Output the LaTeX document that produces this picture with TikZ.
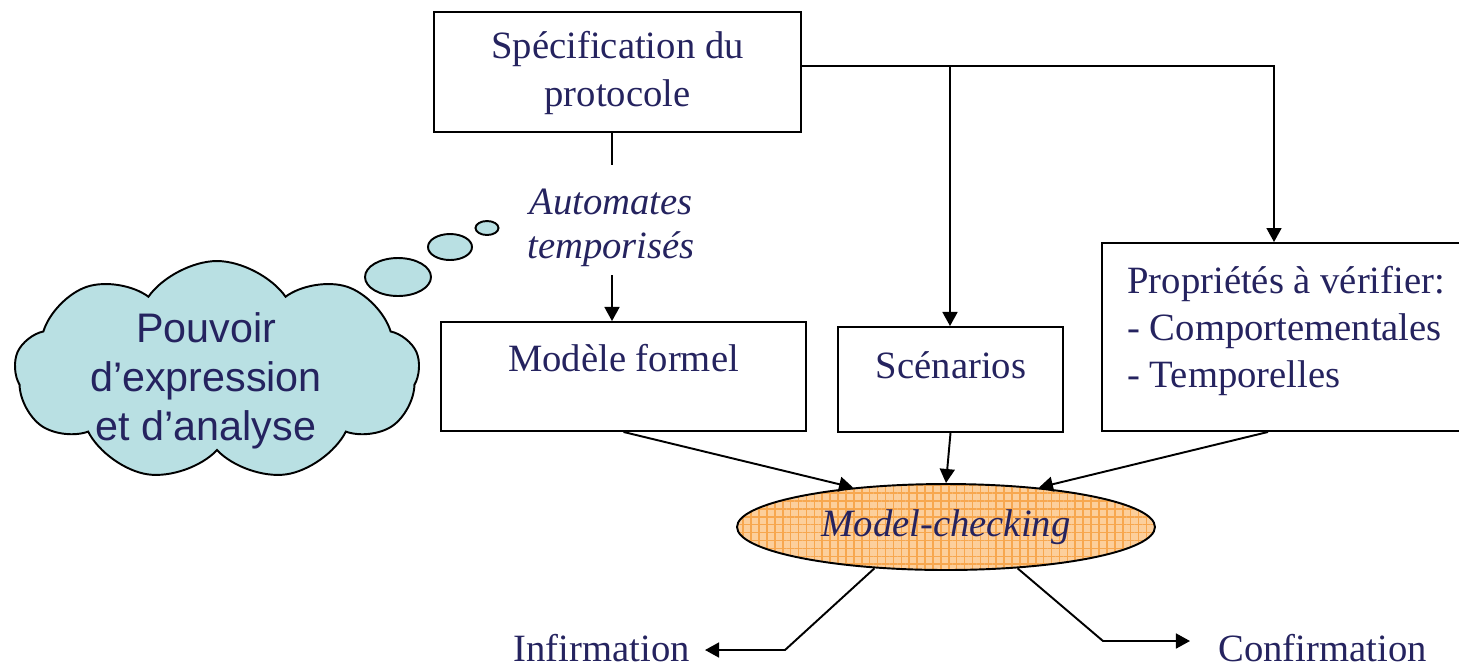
\documentclass[tikz,border=0pt]{standalone}
\usepackage{fontspec}
\setmainfont{Liberation Serif}
\newfontfamily\cloudfont{Liberation Sans}
\usetikzlibrary{arrows.meta,shapes.geometric,shapes.symbols,patterns.meta}
\definecolor{navy}{HTML}{25235F}
\definecolor{cloudfill}{HTML}{B9E0E3}
\definecolor{mcfill}{HTML}{FCCF9C}
\definecolor{mcgrid}{HTML}{F7A74F}
\tikzset{
  box/.style={draw=black, line width=1.1pt, fill=white, inner sep=0pt},
  txt/.style={font=\fontsize{22}{26.5}\selectfont, text=navy, inner sep=0pt, align=center},
  itxt/.style={txt, font=\fontsize{22}{25}\selectfont\itshape},
  conn/.style={line width=1.1pt, draw=black},
  arr/.style={conn, -{Triangle[length=8pt,width=8.5pt]}},
  bubble/.style={draw=black, line width=1.1pt, fill=cloudfill, ellipse, inner sep=0pt}
}
\begin{document}
\begin{tikzpicture}[x=0.02cm, y=-0.02cm]
\useasboundingbox (0,0) rectangle (1459,667);

% Boxes
\node[box, minimum width=7.34cm, minimum height=2.4cm] (spec) at (617.5,72) {};
\node[txt, font=\fontsize{22}{27.5}\selectfont] (spectxt) at (617.5,73) {Spécification du\\protocole};
\node[box, minimum width=7.3cm, minimum height=2.18cm] (modele) at (623.5,376.5) {};
\node[txt] (modtxt) at (623.5,358) {Modèle formel};
\node[box, minimum width=4.5cm, minimum height=2.1cm] (scen) at (950.5,379.5) {};
\node[txt] (scentxt) at (951,365) {Scénarios};
\node[box, minimum width=7.16cm, minimum height=3.76cm] (prop) at (1281,337) {};
\node[txt, align=left, anchor=west] (proptxt) at (1127,331) {Propriétés à vérifier:\\- Comportementales\\- Temporelles};

% Automates label
\node[itxt] (auto) at (611,228) {Automates\\temporisés};
\coordinate (a1) at (612,165);
\coordinate (a2) at (612,275);

% Model-checking ellipse
\node[ellipse, draw=black, line width=1.1pt, minimum width=8.36cm, minimum height=1.72cm, inner sep=0pt,
  preaction={fill=mcfill},
  preaction={pattern={Lines[angle=0,distance=4.5pt,line width=0.9pt]}, pattern color=mcgrid},
  preaction={pattern={Lines[angle=90,distance=4.5pt,line width=0.9pt]}, pattern color=mcgrid}] (mc) at (946,527) {};
\node[itxt] (mctxt) at (946,527) {Model-checking};

% outputs
\node[txt, anchor=east] (infirm) at (690,648) {Infirmation};
\node[txt, anchor=west] (confirm) at (1218,648) {Confirmation};
\coordinate (i1) at (785,650);
\coordinate (i2) at (705,650);
\coordinate (c1) at (1103,641);
\coordinate (c2) at (1190,641);

% top connectors
\coordinate (t1) at (1274,66);
\coordinate (t2) at (950,66);
\draw[conn] (spec.south -| a1) -- (a1);
\draw[arr] (a2) -- (a2 |- modele.north);
\draw[arr] (spec.east |- t1) -- (t1) -- (t1 |- prop.north);
\draw[arr] (t2) -- (t2 |- scen.north);

% to model checking
\draw[arr] (modele.south) -- (mc.157);
\draw[arr] (scen.south) -- (mc.north);
\draw[arr] (prop.south -| 1268,0) -- (mc.23);

% from model checking
\draw[arr] (mc.210) -- (i1) -- (i2);
\draw[arr] (mc.-30) -- (c1) -- (c2);

% cloud
\node[cloud, draw=black, line width=1.1pt, fill=cloudfill, cloud puffs=9, cloud puff arc=110, aspect=1.9, minimum width=8.1cm, minimum height=4.4cm, inner sep=0pt] (cloud) at (217,371) {};
\node[font=\cloudfont\fontsize{23.5}{28}\selectfont, text=navy, align=center, inner sep=0pt] (cloudtxt) at (206,381) {Pouvoir\\d’expression\\et d’analyse};
\node[bubble, minimum width=1.32cm, minimum height=0.76cm] (b1) at (398,277) {};
\node[bubble, minimum width=0.88cm, minimum height=0.52cm] (b2) at (450,247) {};
\node[bubble, minimum width=0.46cm, minimum height=0.28cm] (b3) at (487,228) {};
\end{tikzpicture}
\end{document}
